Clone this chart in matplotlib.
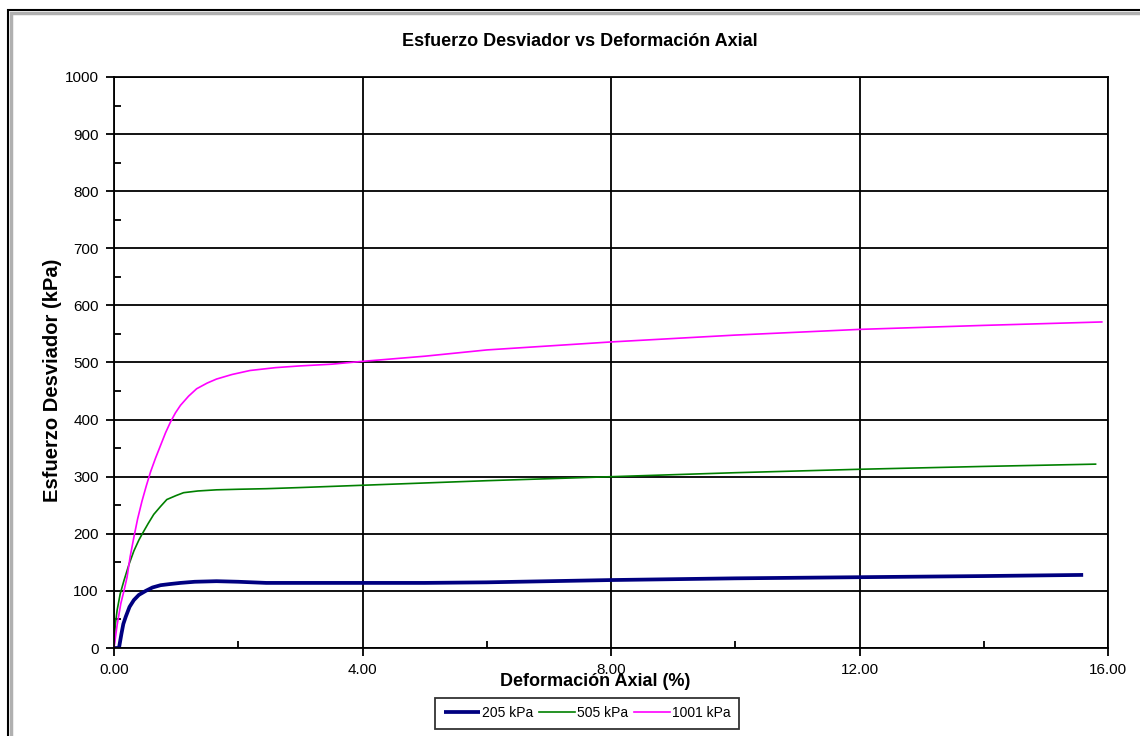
import matplotlib
matplotlib.use("Agg")
import matplotlib.pyplot as plt
from matplotlib.ticker import MultipleLocator, FormatStrFormatter
from matplotlib.patches import Rectangle

plt.rcParams['font.family'] = ['Liberation Sans', 'DejaVu Sans']

# Data
x_205 = [0.0, 0.08, 0.12, 0.15, 0.19, 0.25, 0.32, 0.40, 0.51, 0.62, 0.75, 0.90, 1.07, 1.30, 1.65, 2.0, 2.45,
         3.0, 4.0, 5.0, 6.0, 7.0, 8.0, 10.0, 12.0, 14.0, 15.6]
y_205 = [0, 0, 25, 42, 55, 72, 84, 93, 100, 106, 110, 112, 114, 116, 117, 116, 114,
         114, 114, 114, 115, 117, 119, 122, 124, 126, 128]

x_505 = [0.0, 0.02, 0.05, 0.10, 0.16, 0.24, 0.32, 0.40, 0.45, 0.55, 0.64, 0.75, 0.85, 1.0, 1.12, 1.35, 1.65,
         2.0, 2.45, 3.0, 4.0, 5.0, 6.0, 8.0, 10.0, 12.0, 14.0, 15.8]
y_505 = [0, 40, 66, 95, 118, 146, 170, 189, 199, 218, 234, 248, 260, 267, 272, 275, 277,
         278, 279, 281, 285, 289, 293, 300, 307, 313, 318, 322]

x_1001 = [0.0, 0.05, 0.11, 0.16, 0.21, 0.26, 0.32, 0.38, 0.45, 0.52, 0.59, 0.67, 0.75, 0.83, 0.91, 0.99,
          1.07, 1.20, 1.33, 1.50, 1.65, 1.90, 2.19, 2.60, 2.99, 3.50, 4.0, 5.0, 6.0, 8.0, 10.0, 12.0, 14.0, 15.9]
y_1001 = [0, 40, 78, 100, 124, 160, 194, 226, 257, 284, 309, 333, 355, 377, 396, 412,
          425, 441, 454, 464, 471, 479, 486, 491, 494, 497, 502, 511, 522, 536, 548, 558, 565, 571]

labels = ['205 kPa', '505 kPa', '1001 kPa']
colors = ['#000080', '#008000', '#FF00FF']

fig = plt.figure(figsize=(11.4, 7.36), dpi=100)
# outer frame of the chart area
fig.patches.append(Rectangle((8/1140, -0.05), 1.2, (736-10)/736 + 0.05, transform=fig.transFigure,
                             fill=False, edgecolor='black', linewidth=1.5))
fig.patches.append(Rectangle((11/1140, -0.05), 1.2, (736-13)/736 + 0.05, transform=fig.transFigure,
                             fill=False, edgecolor='#b0b0b0', linewidth=2.5))

ax = fig.add_axes([114/1140, 1 - 648/736, (1108-114)/1140, (648-77)/736])

ax.plot(x_205, y_205, color=colors[0], lw=2.7, label=labels[0], solid_capstyle='butt')
ax.plot(x_505, y_505, color=colors[1], lw=1.2, label=labels[1])
ax.plot(x_1001, y_1001, color=colors[2], lw=1.2, label=labels[2])

ax.set_xlim(0, 16)
ax.set_ylim(0, 1000)
ax.xaxis.set_major_locator(MultipleLocator(4))
ax.xaxis.set_minor_locator(MultipleLocator(2))
ax.yaxis.set_major_locator(MultipleLocator(100))
ax.yaxis.set_minor_locator(MultipleLocator(50))
ax.xaxis.set_major_formatter(FormatStrFormatter('%.2f'))
ax.grid(True, which='major', color='black', lw=1.3)
for s in ax.spines.values():
    s.set_linewidth(1.3)
ax.tick_params(which='major', direction='out', length=6, width=1.3, labelsize=11, pad=5)
ax.tick_params(which='minor', direction='in', length=5, width=1.3)

fig.text(580/1140, 1 - 41/736, 'Esfuerzo Desviador vs Deformación Axial', fontsize=13,
         fontweight='bold', ha='center', va='center')
ax.set_xlabel('Deformación Axial (%)', fontsize=13, fontweight='bold')
ax.xaxis.set_label_coords(0.484, -0.044)
ax.set_ylabel('Esfuerzo Desviador (kPa)', fontsize=14.5, fontweight='bold')
ax.yaxis.set_label_coords(-0.052, 0.469)

leg = ax.legend(loc='upper center', bbox_to_anchor=(0.476, -0.0876), ncol=3, frameon=True,
                fancybox=False, edgecolor='black', fontsize=10, handlelength=2.6,
                handletextpad=0.15, columnspacing=0.4, borderpad=0.6, borderaxespad=0)
leg.get_frame().set_linewidth(1.3)

fig.savefig('out.png', dpi=100)
